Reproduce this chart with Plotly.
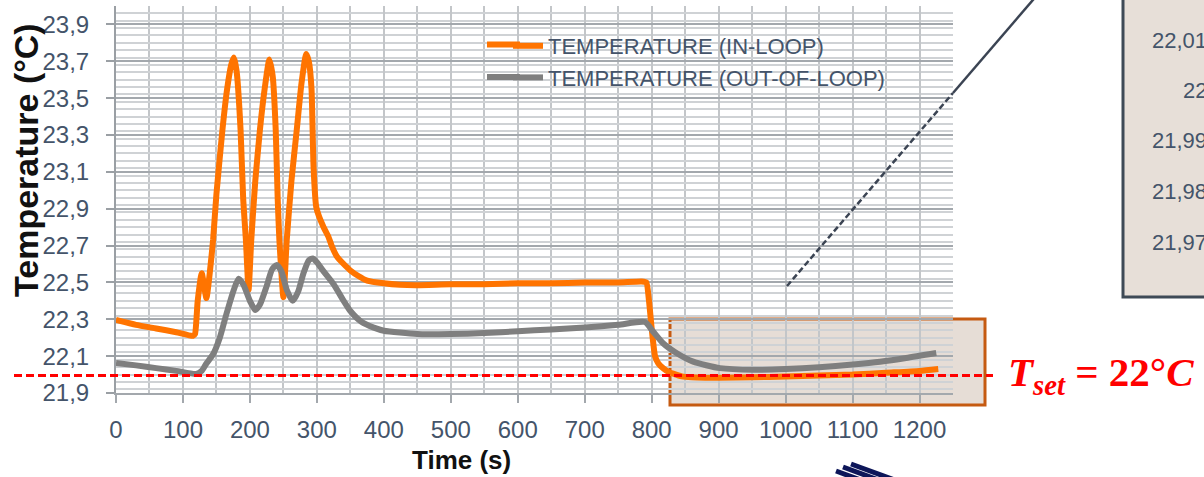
import plotly.graph_objects as go

# ---------------- data ----------------
t_in = [0, 30, 60, 90, 115, 118, 122, 128, 135, 140, 145, 150, 159, 166, 172, 176, 180, 186, 190, 194, 198,
        202, 208, 215, 222, 229, 234, 238.5, 241.5, 244, 250, 255, 262, 270, 277, 284, 288, 292, 295, 299,
        303, 310, 317, 322, 330, 340, 350, 362, 375, 400, 424, 450, 500, 550, 600, 650, 700, 750, 785, 792, 796,
        800, 805, 810, 817, 825, 832, 845, 860, 880, 900, 950, 1000, 1050, 1100, 1150, 1200, 1228]
temp_in = [22.297, 22.27, 22.25, 22.23, 22.21, 22.22, 22.40, 22.55, 22.415, 22.55, 22.73, 22.98, 23.33, 23.55, 23.68,
           23.72, 23.65, 23.33, 22.95, 22.73, 22.46,
           22.73, 23.05, 23.33, 23.55, 23.71, 23.62, 23.33, 22.95, 22.73, 22.42, 22.73, 23.05, 23.33, 23.58, 23.74,
           23.70, 23.55, 23.13, 22.91,
           22.86, 22.80, 22.75, 22.70, 22.64, 22.60, 22.565, 22.535, 22.51, 22.495, 22.487, 22.485, 22.49, 22.49,
           22.495, 22.495, 22.50, 22.50, 22.505, 22.50, 22.40,
           22.25, 22.10, 22.06, 22.035, 22.015, 22.005, 21.99, 21.985, 21.983, 21.983, 21.985, 21.99, 21.995,
           22.0, 22.01, 22.02, 22.03]

t_out = [0, 30, 60, 90, 120, 128, 135, 145, 155, 165, 175, 183, 190, 200, 208, 215, 225, 233, 240, 247, 255,
         264, 272, 280, 288, 294, 300, 310, 325, 340, 350, 367, 385, 400, 450, 500, 550, 600, 650, 700, 750,
         790, 802, 817, 837, 862, 902, 952, 1000, 1050, 1100, 1141, 1180, 1225]
temp_out = [22.063, 22.05, 22.035, 22.02, 22.003, 22.02, 22.06, 22.11, 22.20, 22.33, 22.45, 22.52, 22.49, 22.40,
            22.35, 22.38, 22.48, 22.57, 22.595, 22.56, 22.46,
            22.40, 22.45, 22.55, 22.62, 22.63, 22.61, 22.56, 22.49, 22.40, 22.345, 22.285, 22.255, 22.238, 22.22,
            22.22, 22.225, 22.235, 22.245, 22.255, 22.27,
            22.285, 22.234, 22.17, 22.117, 22.07, 22.035, 22.026, 22.03, 22.04, 22.055, 22.07, 22.09, 22.117]

series_names = ["TEMPERATURE (IN-LOOP)", "TEMPERATURE (OUT-OF-LOOP)"]
series_colors = ["#ff7400", "#7f7f7f"]
t_set = 21.995
x_range = [0, 1250]
y_range = [21.9, 24.0]
inset_labels = ["22,02", "22,01", "22", "21,99", "21,98", "21,97"]

# ---------------- figure ----------------
W, H = 1204, 477
ML, MR, MT, MB = 116, 251, 6, 84
PW, PH = W - ML - MR, H - MT - MB


def px_x(px):
    return (px - ML) / PW


def px_y(py):
    return (H - MB - py) / PH


def val_y(v):
    return (v - y_range[0]) / (y_range[1] - y_range[0])


fig = go.Figure()
fig.add_trace(go.Scatter(x=t_in, y=temp_in, mode="lines", name=series_names[0],
                         line=dict(color=series_colors[0], width=6, shape="spline", smoothing=0.5)))
fig.add_trace(go.Scatter(x=t_out, y=temp_out, mode="lines", name=series_names[1],
                         line=dict(color=series_colors[1], width=6, shape="spline", smoothing=0.6)))

tick_font = dict(family="Liberation Sans, Arial, sans-serif", size=24, color="#44546a")
legend_top = 25

fig.update_layout(
    width=W, height=H,
    margin=dict(l=ML, r=MR, t=MT, b=MB),
    paper_bgcolor="white", plot_bgcolor="white",
    separators=", ",
    showlegend=True,
    legend=dict(x=px_x(508), y=px_y(legend_top), xanchor="left", yanchor="top",
                bgcolor="rgba(0,0,0,0)", font=dict(family="Liberation Sans, Arial, sans-serif",
                                                   size=22, color="#44546a"),
                tracegroupgap=0),
    xaxis=dict(range=x_range, tickmode="linear", tick0=0, dtick=100,
               showgrid=True, gridcolor="#c3c6c9", gridwidth=2,
               ticks="outside", ticklen=8, tickwidth=2, tickcolor="#a3a8ad",
               showline=True, linecolor="#a3a8ad", linewidth=2,
               tickfont=tick_font, ticklabelstandoff=6,
               minor=dict(dtick=50, showgrid=True, gridcolor="#c3c6c9", gridwidth=2),
               zeroline=False),
    yaxis=dict(range=y_range, tickmode="linear", tick0=21.9, dtick=0.2, tickformat=".1f",
               showgrid=True, gridcolor="#a3a8ad", gridwidth=2,
               ticks="outside", ticklen=8, tickwidth=2, tickcolor="#9a9fa4",
               showline=True, linecolor="#9a9fa4", linewidth=2,
               tickfont=tick_font, ticklabelstandoff=12,
               minor=dict(dtick=0.04, showgrid=True, gridcolor="#cfd2d5", gridwidth=2),
               zeroline=False),
)

shapes = []
# zoom region rectangle (below grid)
shapes.append(dict(type="rect", xref="paper", yref="paper", layer="below",
                   x0=px_x(670), x1=px_x(985), y0=px_y(405), y1=px_y(319),
                   fillcolor="#e6ddd6", line=dict(color="#c55a11", width=3)))
# setpoint line
shapes.append(dict(type="line", xref="paper", yref="paper", layer="above",
                   x0=px_x(14), x1=px_x(993), y0=val_y(t_set), y1=val_y(t_set),
                   line=dict(color="#ff0000", width=3, dash="8px,4px")))
# inset box
shapes.append(dict(type="rect", xref="paper", yref="paper", layer="above",
                   x0=px_x(1123), x1=px_x(1230), y0=px_y(297), y1=px_y(-20),
                   fillcolor="#e7dfd8", line=dict(color="#3e4a56", width=3)))
# connector line (dashed inside plot, solid outside)
cx0, cy0 = 787, 286
slope = -1.163
cx1 = 953
cy1 = cy0 + slope * (cx1 - cx0)
cx2 = 1045
cy2 = cy0 + slope * (cx2 - cx0)
shapes.append(dict(type="line", xref="paper", yref="paper", layer="above",
                   x0=px_x(cx0), y0=px_y(cy0), x1=px_x(cx1), y1=px_y(cy1),
                   line=dict(color="#3b4453", width=2.5, dash="6px,3px")))
shapes.append(dict(type="line", xref="paper", yref="paper", layer="above",
                   x0=px_x(cx1), y0=px_y(cy1), x1=px_x(cx2), y1=px_y(cy2),
                   line=dict(color="#3b4453", width=2.5)))
# longer legend sample strokes (Excel-style legend keys)
for i, col in enumerate(series_colors):
    ry = legend_top + 19.5 + 32.5 * i
    shapes.append(dict(type="line", xref="paper", yref="paper", layer="above",
                       x0=px_x(487), x1=px_x(520), y0=px_y(ry), y1=px_y(ry),
                       line=dict(color=col, width=6)))
# partial navy arrow bundle at bottom
for (sx, sy) in [(836, 471), (843, 467), (851, 464)]:
    shapes.append(dict(type="line", xref="paper", yref="paper", layer="above",
                       x0=px_x(sx), y0=px_y(sy), x1=px_x(sx + 60), y1=px_y(sy + 22),
                       line=dict(color="#0d1659", width=5)))
fig.update_layout(shapes=shapes)

ann = []
# axis titles
ann.append(dict(text="<b>Temperature (°C)</b>", xref="paper", yref="paper",
                x=px_x(26), y=px_y(160), xanchor="center", yanchor="middle", textangle=-90,
                showarrow=False, font=dict(family="Liberation Sans, Arial, sans-serif", size=34, color="#111111")))
ann.append(dict(text="<b>Time (s)</b>", xref="paper", yref="paper",
                x=px_x(461), y=px_y(460), xanchor="center", yanchor="middle",
                showarrow=False, font=dict(family="Liberation Sans, Arial, sans-serif", size=26, color="#111111")))
# setpoint label
ann.append(dict(text="<b><i>T</i><sub><i>set</i></sub> = 22°<i>C</i></b>", xref="paper", yref="paper",
                x=px_x(1006), y=val_y(t_set), xanchor="left", yanchor="middle",
                showarrow=False, font=dict(family="Liberation Serif, DejaVu Serif, serif", size=41, color="#ff0000")))
# inset tick labels (cropped by the figure edge, as in the reference)
for i, lab in enumerate(inset_labels):
    py = -10.5 + 50.5 * i
    ann.append(dict(text=lab, xref="paper", yref="paper", x=px_x(1209), y=px_y(py),
                    xanchor="right", yanchor="middle", showarrow=False,
                    font=dict(family="Liberation Sans, Arial, sans-serif", size=22, color="#44546a")))
fig.update_layout(annotations=ann)

fig.write_html("out.html")
